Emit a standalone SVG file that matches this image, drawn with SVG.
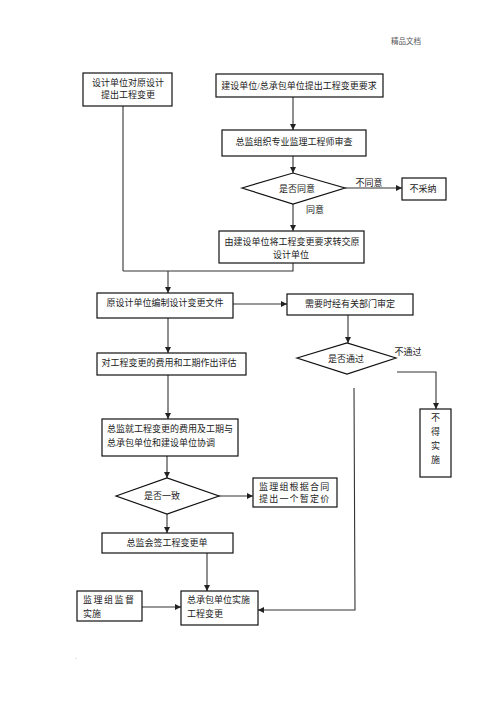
<svg xmlns="http://www.w3.org/2000/svg" width="496" height="702" viewBox="0 0 496 702">
<defs>
<marker id="ah" viewBox="0 0 10 10" refX="10" refY="5" markerWidth="6" markerHeight="6" markerUnits="userSpaceOnUse" orient="auto">
<path d="M0,0 L10,5 L0,10 z" fill="#222"/>
</marker>
</defs>
<style>
.box{fill:#fff;stroke:#111;stroke-width:1.2}
.t{font-family:"Liberation Serif","Noto Sans CJK SC",serif;font-size:9px;fill:#222}
.c{text-anchor:middle}
.ln{fill:none;stroke:#333;stroke-width:1.1}
.ar{fill:none;stroke:#333;stroke-width:1.1;marker-end:url(#ah)}
</style>
<rect width="496" height="702" fill="#fff"/>
<text x="406" y="44" class="t c" style="font-size:7.5px;fill:#555">精品文档</text>

<g id="connectors">
<line class="ln" x1="123" y1="106" x2="123" y2="271"/>
<line class="ar" x1="293" y1="97" x2="293" y2="130"/>
<line class="ar" x1="293" y1="156" x2="293" y2="173"/>
<line class="ar" x1="345" y1="188" x2="402" y2="188"/>
<line class="ar" x1="293" y1="204" x2="293" y2="231"/>
<polyline class="ln" points="293,263 293,271 123,271"/>
<line class="ar" x1="168" y1="271" x2="168" y2="293"/>
<line class="ar" x1="233" y1="304" x2="287" y2="304"/>
<line class="ar" x1="348" y1="315" x2="348" y2="343"/>
<polyline class="ar" points="397,372 436,372 436,409"/>
<line class="ar" x1="168" y1="318" x2="168" y2="353"/>
<line class="ar" x1="168" y1="375" x2="168" y2="419"/>
<line class="ar" x1="167" y1="456" x2="167" y2="478"/>
<line class="ar" x1="219" y1="496" x2="253" y2="496"/>
<line class="ar" x1="167" y1="514" x2="167" y2="533"/>
<line class="ar" x1="207" y1="553" x2="207" y2="591"/>
<polyline class="ar" points="354,388 355,610 258,610"/>
<line class="ar" x1="142" y1="607" x2="181" y2="607"/>
</g>

<g id="n1"><rect class="box" x="83" y="73" width="89" height="33"/>
<text class="t c" x="128" y="86">设计单位对原设计</text>
<text class="t c" x="128" y="98">提出工程变更</text></g>

<g id="n2"><rect class="box" x="216" y="74" width="167" height="23"/>
<text class="t c" x="299" y="88.5">建设单位/总承包单位提出工程变更要求</text></g>

<g id="n3"><rect class="box" x="222" y="130" width="144" height="26"/>
<text class="t c" x="294" y="144.5">总监组织专业监理工程师审查</text></g>

<g id="d1"><polygon class="box" points="242,188 293,173 345,188 293,204"/>
<text class="t c" x="297" y="192">是否同意</text></g>
<text class="t c" x="369" y="186">不同意</text>
<text class="t c" x="315" y="213">同意</text>

<g id="n4"><rect class="box" x="402" y="178" width="44" height="22"/>
<text class="t c" x="423" y="192">不采纳</text></g>

<g id="n5"><rect class="box" x="219" y="231" width="145" height="32"/>
<text class="t c" x="292" y="245">由建设单位将工程变更要求转交原</text>
<text class="t c" x="291" y="258">设计单位</text></g>

<g id="n6"><rect class="box" x="97" y="293" width="136" height="25"/>
<text class="t c" x="165" y="306">原设计单位编制设计变更文件</text></g>

<g id="n7"><rect class="box" x="287" y="294" width="126" height="21"/>
<text class="t c" x="350" y="307">需要时经有关部门审定</text></g>

<g id="d2"><polygon class="box" points="297,358 347,343 396,358 347,374"/>
<text class="t c" x="346" y="362">是否通过</text></g>
<text class="t c" x="408" y="355">不通过</text>

<g id="n8"><rect class="box" x="97" y="353" width="149" height="22"/>
<text class="t c" x="169" y="366">对工程变更的费用和工期作出评估</text></g>

<g id="n9"><rect class="box" x="420" y="409" width="31" height="68"/>
<text class="t c" x="435.5" y="421">不</text>
<text class="t c" x="435.5" y="435">得</text>
<text class="t c" x="435.5" y="449">实</text>
<text class="t c" x="435.5" y="463">施</text></g>

<g id="n10"><rect class="box" x="102" y="419" width="136" height="37"/>
<text class="t" x="107" y="432">总监就工程变更的费用及工期与</text>
<text class="t" x="107" y="446">总承包单位和建设单位协调</text></g>

<g id="d3"><polygon class="box" points="116,496 167,478 219,496 167,514"/>
<text class="t c" x="162" y="499">是否一致</text></g>

<g id="n11"><rect class="box" x="253" y="478" width="84" height="29"/>
<text class="t" x="259" y="490" style="letter-spacing:1.2px">监理组根据合同</text>
<text class="t" x="259" y="502" style="letter-spacing:1.2px">提出一个暂定价</text></g>

<g id="n12"><rect class="box" x="102" y="533" width="131" height="20"/>
<text class="t c" x="167" y="546">总监会签工程变更单</text></g>

<g id="n13"><rect class="box" x="77" y="591" width="65" height="30"/>
<text class="t" x="83" y="603" style="letter-spacing:1.5px">监理组监督</text>
<text class="t" x="83" y="617">实施</text></g>

<g id="n14"><rect class="box" x="181" y="591" width="77" height="34"/>
<text class="t" x="187" y="603">总承包单位实施</text>
<text class="t" x="187" y="617">工程变更</text></g>

<text x="75" y="659" class="t" style="font-size:7px;fill:#aaa">.</text>
</svg>
